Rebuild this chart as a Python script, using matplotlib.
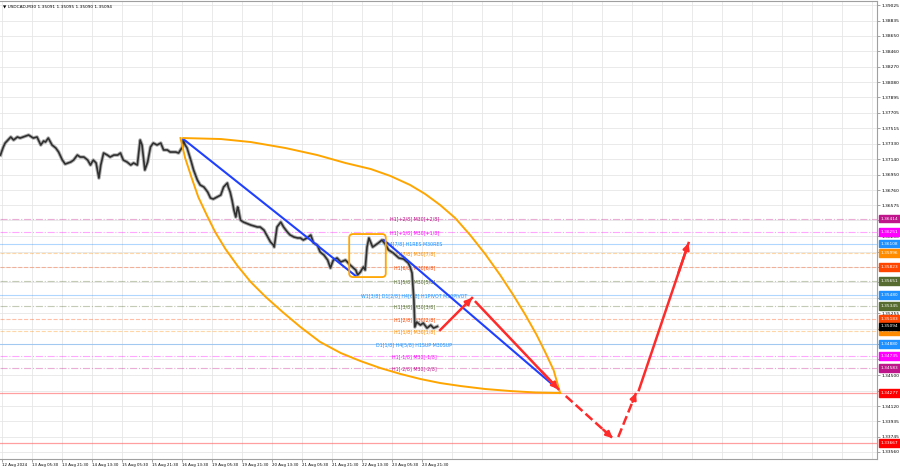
import matplotlib.pyplot as plt
import matplotlib.transforms as mtransforms
from matplotlib.patches import FancyBboxPatch

# USDCAD M30 closes, x = bar number from the left edge of the chart
barras = [0, 3, 5, 9, 11, 14, 18, 21, 27, 30, 35, 39, 43, 46, 48, 51, 55, 59, 62, 66,
          69, 75, 78, 82, 85, 89, 93, 96, 99, 102, 105, 107, 110, 114, 117, 121, 125, 128, 131, 135,
          139, 142, 146, 149, 151, 154, 157, 160, 163, 167, 171, 174, 178, 181, 187, 190, 194, 195, 197, 199,
          203, 206, 210, 213, 217, 221, 224, 227, 231, 235, 238, 242, 243, 245, 247, 249, 251, 253, 254, 256,
          259, 267, 274, 277, 281, 285, 288, 291, 292, 295, 299, 302, 306, 309, 313, 317, 320, 323, 327, 331,
          334, 338, 341, 345, 349, 352, 355, 359, 363, 368, 373, 379, 381, 384, 387, 389, 391, 393, 397, 400,
          403, 407, 411, 414, 419, 425, 430, 435, 437, 439, 441, 442, 444, 448, 451, 455, 459, 462, 466]
precos = [1.37190, 1.37288, 1.37337, 1.37386, 1.37411, 1.37374, 1.37411, 1.37398, 1.37423, 1.37435,
          1.37398, 1.37411, 1.37313, 1.37362, 1.37349, 1.37398, 1.37313, 1.37276, 1.37227, 1.37129,
          1.37080, 1.37105, 1.37129, 1.37190, 1.37166, 1.37166, 1.37129, 1.37068, 1.37129, 1.37093,
          1.36909, 1.37068, 1.37215, 1.37190, 1.37166, 1.37190, 1.37190, 1.37215, 1.37129, 1.37105,
          1.37068, 1.37093, 1.37068, 1.37374, 1.37313, 1.37007, 1.37105, 1.37288, 1.37337, 1.37313,
          1.37337, 1.37252, 1.37252, 1.37227, 1.37227, 1.37215, 1.37288, 1.37374, 1.37313, 1.37276,
          1.37129, 1.37007, 1.36885, 1.36824, 1.36799, 1.36738, 1.36665, 1.36652, 1.36677, 1.36701,
          1.36799, 1.36848, 1.36799, 1.36738, 1.36640, 1.36518, 1.36432, 1.36555, 1.36518, 1.36396,
          1.36371, 1.36334, 1.36310, 1.36310, 1.36273, 1.36188, 1.36127, 1.36090, 1.36065, 1.36310,
          1.36371, 1.36310, 1.36249, 1.36212, 1.36188, 1.36176, 1.36176, 1.36151, 1.36176, 1.36212,
          1.36114, 1.36090, 1.36004, 1.35968, 1.35906, 1.35809, 1.35906, 1.35931, 1.35882, 1.35906,
          1.35845, 1.35784, 1.35723, 1.35760, 1.35821, 1.35784, 1.36065, 1.36176, 1.36065, 1.36090,
          1.36114, 1.36151, 1.36090, 1.36029, 1.35992, 1.35931, 1.35919, 1.35870, 1.35821, 1.35748,
          1.35417, 1.35087, 1.35148, 1.35111, 1.35136, 1.35074, 1.35111, 1.35074, 1.35094]

# time axis labels (one every 32 bars)
rotulos_datas = ["12 Aug 2024", "13 Aug 05:30", "13 Aug 21:30", "14 Aug 13:30", "15 Aug 05:30",
                 "15 Aug 21:30", "16 Aug 13:30", "19 Aug 05:30", "19 Aug 21:30", "20 Aug 13:30",
                 "21 Aug 05:30", "21 Aug 21:30", "22 Aug 13:30", "23 Aug 05:30", "23 Aug 21:30"]

# price scale
ticks_preco = [1.39025, 1.38835, 1.38650, 1.38460, 1.38270, 1.38080, 1.37895, 1.37705, 1.37515,
               1.37330, 1.37140, 1.36950, 1.36760, 1.36575, 1.36390, 1.36200, 1.36010, 1.35820,
               1.35635, 1.35445, 1.35255, 1.35065, 1.34880, 1.34690, 1.34500, 1.34310, 1.34120,
               1.33935, 1.33745, 1.33560]

# Murrey levels
niveis_preco = [1.36414, 1.36251, 1.36108, 1.35996, 1.35823, 1.35651, 1.35480, 1.35345,
                1.35183, 1.35040, 1.34880, 1.34735, 1.34583]
niveis_texto = ["H1[+2/8] M30[+2/8]", "H1[+1/8] M30[+1/8]", "H4[7/8] H1RES M30RES",
                "H1[7/8] M30[7/8]", "H1[6/8] M30[6/8]", "H1[5/8] M30[5/8]",
                "W1[3/8] D1[2/8] H4[6/8] H1PIVOT M30PIVOT", "H1[3/8] M30[3/8]",
                "H1[2/8] M30[2/8]", "H1[1/8] M30[1/8]", "D1[1/8] H4[5/8] H1SUP M30SUP",
                "H1[-1/8] M30[-1/8]", "H1[-2/8] M30[-2/8]"]
niveis_cor = ["#c0168c", "#ff00ff", "#1e90ff", "#ff8c00", "#ff4500", "#556b2f", "#1e90ff",
              "#556b2f", "#ff4500", "#ff8c00", "#1e90ff", "#ff00ff", "#c0168c"]
niveis_estilo = ["-.", "-.", "-", "--", "--", "-.", "-", "-.", "--", "--", "-", "-.", "-."]

# red target lines and current price
linhas_vermelhas = [1.34277, 1.33667]
preco_atual = 1.35094

# drawn objects (bar, price)
linha_azul_1 = ([195, 379], [1.37386, 1.35711])
linha_azul_2 = ([409, 592], [1.36151, 1.34353])
arco_sup_x = [195, 235, 267, 304, 338, 368, 395, 416, 437, 453, 469, 485, 501, 517, 533, 547,
              560, 572, 581, 590, 597]
arco_sup_y = [1.37398, 1.37386, 1.37349, 1.37276, 1.37190, 1.37093, 1.37019, 1.36934, 1.36824,
              1.36714, 1.36579, 1.36420, 1.36212, 1.35980, 1.35723, 1.35478, 1.35234, 1.34989,
              1.34781, 1.34561, 1.34280]
arco_inf_x = [192, 197, 204, 211, 220, 229, 240, 253, 267, 283, 301, 320, 341, 363, 384, 405,
              427, 448, 469, 491, 517, 544, 571, 597]
arco_inf_y = [1.37398, 1.37154, 1.36909, 1.36677, 1.36457, 1.36249, 1.36041, 1.35833, 1.35637,
              1.35454, 1.35270, 1.35087, 1.34904, 1.34769, 1.34671, 1.34586, 1.34512, 1.34451,
              1.34402, 1.34365, 1.34329, 1.34304, 1.34286, 1.34280]
caixa = (372, 411, 1.35698, 1.36224)
setas = [((469, 1.35050), (503, 1.35442), "-"),
         ((507, 1.35393), (595, 1.34329), "-"),
         ((603, 1.34243), (653, 1.33729), "--"),
         ((659, 1.33742), (678, 1.34280), "--"),
         ((681, 1.34316), (734, 1.36114), "-")]

plt.rcParams['font.family'] = ['DejaVu Sans']
fig = plt.figure(figsize=(9, 4.68), dpi=100)
ax = fig.add_axes([0, 9 / 468, 877 / 900, 458 / 468])
ax.set_xlim(-0.5, 935)
ax.set_ylim(1.33473, 1.39074)

# grid
pos_datas = [2 + 32 * k for k in range(30)]
for x in pos_datas:
    ax.axvline(x, color='#e6e6e6', lw=0.6, zorder=0)
for y in ticks_preco:
    ax.axhline(y, color='#e6e6e6', lw=0.6, zorder=0)

# Murrey lines and their texts
for p, t, c, s in zip(niveis_preco, niveis_texto, niveis_cor, niveis_estilo):
    ax.axhline(p, color=c, lw=0.8, ls=s, alpha=0.35, zorder=1)
    ax.text(441.5, p - 0.00008, t, color=c, fontsize=3.4, ha='center', va='center', zorder=2)
for p in linhas_vermelhas:
    ax.axhline(p, color='#ff6060', lw=0.9, alpha=0.6, zorder=1)

# price
ax.plot(barras, precos, color='#b0b0b0', lw=2.6, zorder=3)
ax.plot(barras, precos, color='#303030', lw=1.2, zorder=4)

# channel lines, arcs and box
ax.plot(*linha_azul_1, color='#2040ff', lw=1.5, zorder=5)
ax.plot(*linha_azul_2, color='#2040ff', lw=1.5, zorder=5)
ax.plot(arco_sup_x, arco_sup_y, color='#ffa500', lw=1.4, zorder=5)
ax.plot(arco_inf_x, arco_inf_y, color='#ffa500', lw=1.4, zorder=5)
x0, x1, y0, y1 = caixa
ax.add_patch(FancyBboxPatch((x0, y0), x1 - x0, y1 - y0,
                            boxstyle="round,pad=0,rounding_size=4",
                            mutation_aspect=0.000115, fc='none', ec='#ffa500', lw=1.3, zorder=5))

# forecast arrows
for ini, fim, s in setas:
    ax.plot([ini[0], fim[0]], [ini[1], fim[1]], color='#ff2a2a', lw=1.8, ls=s, zorder=6)
    meio = (ini[0] + 0.8 * (fim[0] - ini[0]), ini[1] + 0.8 * (fim[1] - ini[1]))
    ax.annotate('', xy=fim, xytext=meio,
                arrowprops=dict(arrowstyle='-|>', color='#ff2a2a', lw=1.8,
                                mutation_scale=9, shrinkA=0, shrinkB=0), zorder=6)

# axes
ax.yaxis.tick_right()
ax.set_yticks(ticks_preco, [f"{v:.5f}" for v in ticks_preco])
ax.set_xticks(pos_datas[:len(rotulos_datas)], rotulos_datas)
for lab in ax.get_xticklabels():
    lab.set_ha('left')
ax.tick_params(axis='both', length=2, width=0.5, color='#808080', pad=1.2)
ax.tick_params(axis='y', labelsize=3.2)
ax.tick_params(axis='x', labelsize=2.8)
for sp in ax.spines.values():
    sp.set_color('#a0a0a0')
    sp.set_linewidth(0.8)
ax.spines['left'].set_visible(False)

# price labels on the scale
trans = mtransforms.blended_transform_factory(ax.transAxes, ax.transData)
etiquetas = list(zip(niveis_preco, niveis_cor)) + [(preco_atual, '#000000')] + \
    [(p, '#ff0000') for p in linhas_vermelhas]
for p, c in etiquetas:
    ax.text(1.004, p, f"{p:.5f}", transform=trans, color='white', fontsize=3.1,
            ha='left', va='center', clip_on=False, zorder=10,
            bbox=dict(boxstyle='square,pad=0.45', fc=c, ec=c))

# title
ax.text(0.003, 0.993, "\u25bc USDCAD,M30 1.35091 1.35095 1.35090 1.35094", transform=ax.transAxes,
        fontsize=3.1, ha='left', va='top')

fig.savefig('out.png', dpi=100)
